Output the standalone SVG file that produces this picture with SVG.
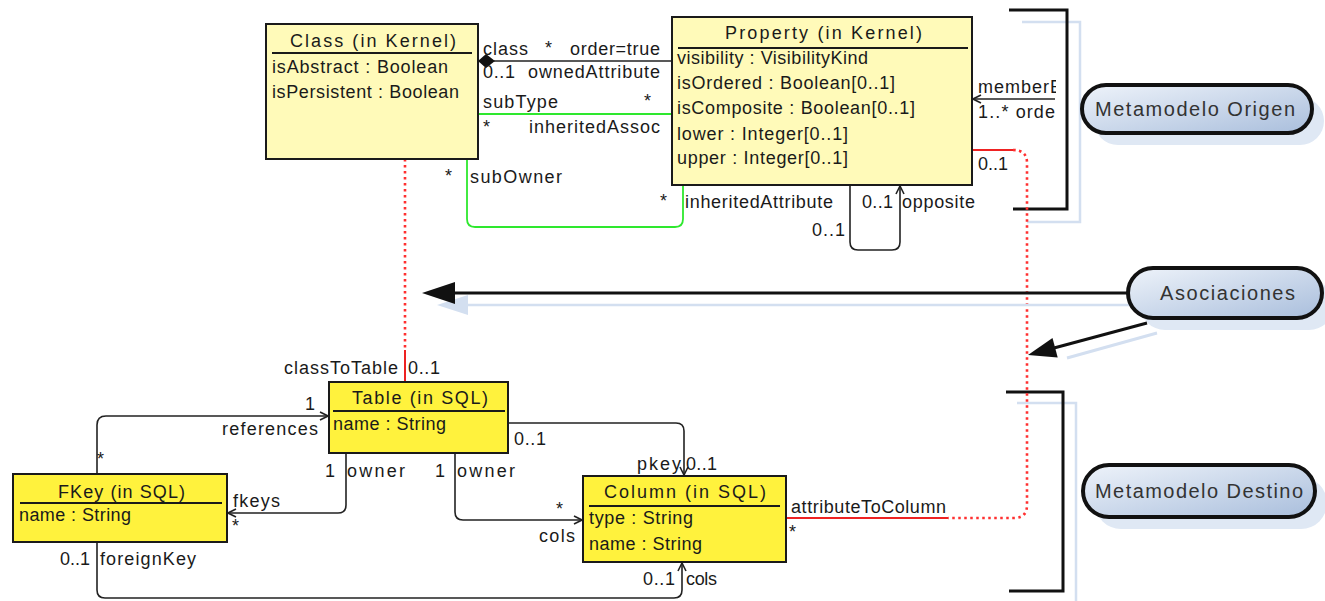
<svg xmlns="http://www.w3.org/2000/svg" width="1325" height="601" viewBox="0 0 1325 601">
<style>
.bk{fill:#FFFAB9;stroke:#1a1a1a;stroke-width:2}
.bs{fill:#FFF23D;stroke:#1a1a1a;stroke-width:2}
.sep{stroke:#1a1a1a;stroke-width:2}
.t{font-family:"Liberation Sans",Arial,sans-serif;font-size:18px;fill:#1a1a1a}
.c{fill:none;stroke:#222;stroke-width:1.6}
.g{fill:none;stroke:#2ee82e;stroke-width:1.8}
.r{fill:none;stroke:#ee2222;stroke-width:2}
.rd{fill:none;stroke:#ff3030;stroke-width:2.6;stroke-dasharray:2.5 3.5}
.sh{fill:none;stroke:#d3dff0;stroke-width:2.5}
.br{fill:none;stroke:#111;stroke-width:3}
.pill{fill:url(#pg);stroke:#111;stroke-width:4}
.pills{fill:#dfe8f4}
.ct{font-family:"Liberation Sans",Arial,sans-serif;font-size:20px;fill:#333}
</style>
<defs>
<marker id="oa" viewBox="0 0 10 10" refX="9" refY="5" markerWidth="10" markerHeight="10" markerUnits="userSpaceOnUse" orient="auto">
<path d="M1,1 L9,5 L1,9" fill="none" stroke="#222" stroke-width="1.6"/>
</marker>
<linearGradient id="pg" x1="0" y1="0" x2="1" y2="1">
<stop offset="0" stop-color="#eef3fa"/>
<stop offset="1" stop-color="#a9bedc"/>
</linearGradient>
<clipPath id="mclip"><rect x="970" y="75" width="86" height="50"/></clipPath>
</defs>
<rect width="1325" height="601" fill="#fff"/>

<g id="brackets">
<path class="sh" d="M1022,22 H1080 V222 H1027"/>
<path class="br" d="M1009,10 H1067 V209 H1013"/>
<path class="sh" d="M1017,403 H1076 V601"/>
<path class="br" d="M1006,392 H1063 V591 H1009"/>
</g>

<g id="connectors">
<line class="c" x1="494" y1="61" x2="672" y2="61"/>
<polygon points="478,61 486,54 495,61 486,68" fill="#111"/>
<line class="g" x1="478" y1="114" x2="672" y2="114"/>
<path class="g" d="M467,159 V219 Q467,227 475,227 H675 Q683,227 683,219 V185"/>
<path class="c" d="M850,185 V242 Q850,250 858,250 H892 Q900,250 900,242 V186" marker-end="url(#oa)"/>
<path class="c" d="M1055,99 H973" marker-end="url(#oa)"/>
<path class="r" d="M972,150 H1013"/>
<path class="rd" d="M1013,150 Q1027,150 1027,163 V505 Q1027,518 1014,518 H948"/>
<path class="r" d="M948,518 H787"/>
<path class="rd" d="M405,159 V350"/>
<path class="r" d="M405,350 V382"/>
<path class="c" d="M97,473 V425 Q97,416 106,416 H328" marker-end="url(#oa)"/>
<path class="c" d="M346,453 V505 Q346,513 338,513 H228" marker-end="url(#oa)"/>
<path class="c" d="M455,453 V512 Q455,520 463,520 H582" marker-end="url(#oa)"/>
<path class="c" d="M508,423 H676 Q684,423 684,431 V475" marker-end="url(#oa)"/>
<path class="c" d="M97,542 V590 Q97,598 105,598 H674 Q682,598 682,590 V563" marker-end="url(#oa)"/>
</g>

<g id="labels">
<text class="t" x="483" y="55" textLength="45">class</text>
<text class="t" x="545" y="54">*</text>
<text class="t" x="570" y="55" textLength="90">order=true</text>
<text class="t" x="483" y="78" textLength="32">0..1</text>
<text class="t" x="528" y="78" textLength="132">ownedAttribute</text>
<text class="t" x="483" y="108" textLength="75">subType</text>
<text class="t" x="644" y="107">*</text>
<text class="t" x="483" y="133">*</text>
<text class="t" x="529" y="133" textLength="131">inheritedAssoc</text>
<text class="t" x="445" y="182">*</text>
<text class="t" x="470" y="183" textLength="92">subOwner</text>
<text class="t" x="660" y="207">*</text>
<text class="t" x="685" y="208" textLength="148">inheritedAttribute</text>
<text class="t" x="862" y="208" textLength="31">0..1</text>
<text class="t" x="902" y="208" textLength="73">opposite</text>
<text class="t" x="812" y="236" textLength="33">0..1</text>
<text class="t" x="978" y="93" textLength="84" clip-path="url(#mclip)">memberE</text>
<text class="t" x="978" y="118" textLength="77">1..* orde</text>
<text class="t" x="978" y="170" textLength="30">0..1</text>
<text class="t" x="284" y="374" textLength="114">classToTable</text>
<text class="t" x="408" y="374" textLength="32">0..1</text>
<text class="t" x="305" y="410">1</text>
<text class="t" x="222" y="435" textLength="96">references</text>
<text class="t" x="97" y="465">*</text>
<text class="t" x="325" y="477">1</text>
<text class="t" x="347" y="477" textLength="58">owner</text>
<text class="t" x="435" y="477">1</text>
<text class="t" x="457" y="477" textLength="58">owner</text>
<text class="t" x="233" y="507" textLength="47">fkeys</text>
<text class="t" x="232" y="532">*</text>
<text class="t" x="60" y="565" textLength="30">0..1</text>
<text class="t" x="100" y="565" textLength="96">foreignKey</text>
<text class="t" x="514" y="445" textLength="32">0..1</text>
<text class="t" x="637" y="470" textLength="44">pkey</text>
<text class="t" x="686" y="470" textLength="31">0..1</text>
<text class="t" x="556" y="515">*</text>
<text class="t" x="539" y="542" textLength="36">cols</text>
<text class="t" x="791" y="513" textLength="155">attributeToColumn</text>
<text class="t" x="789" y="538">*</text>
<text class="t" x="643" y="585" textLength="32">0..1</text>
<text class="t" x="686" y="585" textLength="31">cols</text>
</g>

<g id="class-kernel">
<rect class="bk" x="266" y="24" width="212" height="135"/>
<line class="sep" x1="272" y1="53" x2="472" y2="53"/>
<text class="t" x="290" y="47" textLength="166">Class (in Kernel)</text>
<text class="t" x="272" y="73" textLength="176">isAbstract : Boolean</text>
<text class="t" x="272" y="98" textLength="187">isPersistent : Boolean</text>
</g>

<g id="property-kernel">
<rect class="bk" x="672" y="17" width="300" height="168"/>
<line class="sep" x1="678" y1="48" x2="968" y2="48"/>
<text class="t" x="725" y="39" textLength="197">Property (in Kernel)</text>
<text class="t" x="677" y="64" textLength="191">visibility : VisibilityKind</text>
<text class="t" x="677" y="89" textLength="218">isOrdered : Boolean[0..1]</text>
<text class="t" x="677" y="114" textLength="238">isComposite : Boolean[0..1]</text>
<text class="t" x="677" y="140" textLength="171">lower : Integer[0..1]</text>
<text class="t" x="677" y="164" textLength="171">upper : Integer[0..1]</text>
</g>

<g id="table-sql">
<rect class="bs" x="329" y="382" width="179" height="71"/>
<line class="sep" x1="333" y1="411" x2="505" y2="411"/>
<text class="t" x="352" y="404" textLength="136">Table (in SQL)</text>
<text class="t" x="333" y="430" textLength="113">name : String</text>
</g>

<g id="fkey-sql">
<rect class="bs" x="13" y="474" width="214" height="68"/>
<line class="sep" x1="20" y1="503" x2="222" y2="503"/>
<text class="t" x="58" y="498" textLength="127">FKey (in SQL)</text>
<text class="t" x="19" y="521" textLength="112">name : String</text>
</g>

<g id="column-sql">
<rect class="bs" x="583" y="476" width="203" height="86"/>
<line class="sep" x1="589" y1="506" x2="780" y2="506"/>
<text class="t" x="604" y="498" textLength="162">Column (in SQL)</text>
<text class="t" x="589" y="524" textLength="104">type : String</text>
<text class="t" x="589" y="550" textLength="113">name : String</text>
</g>

<g id="callout-origen">
<rect class="pills" x="1094" y="97" width="230" height="48" rx="24"/>
<rect class="pill" x="1082" y="85" width="230" height="48" rx="24"/>
<text class="ct" x="1095" y="116" textLength="200">Metamodelo Origen</text>
</g>

<g id="callout-asociaciones">
<line class="sh" x1="468" y1="305" x2="1130" y2="305" stroke-width="3"/>
<polygon points="437,305 468,295 468,315" fill="#d3dff0"/>
<line x1="1157" y1="333" x2="1067" y2="358" stroke="#d3dff0" stroke-width="3"/>
<rect class="pills" x="1140" y="280" width="194" height="50" rx="25"/>
<line x1="1130" y1="293" x2="452" y2="293" stroke="#111" stroke-width="3"/>
<polygon points="422,293 455,282 455,304" fill="#111"/>
<line x1="1147" y1="323" x2="1054" y2="348" stroke="#111" stroke-width="3"/>
<polygon points="1028,355 1057.7,357.4 1052.5,338" fill="#111"/>
<rect class="pill" x="1128" y="268" width="194" height="50" rx="25"/>
<text class="ct" x="1160" y="300" textLength="135">Asociaciones</text>
</g>

<g id="callout-destino">
<rect class="pills" x="1095" y="477" width="232" height="52" rx="26"/>
<rect class="pill" x="1083" y="465" width="232" height="52" rx="26"/>
<text class="ct" x="1095" y="498" textLength="208">Metamodelo Destino</text>
</g>
</svg>
